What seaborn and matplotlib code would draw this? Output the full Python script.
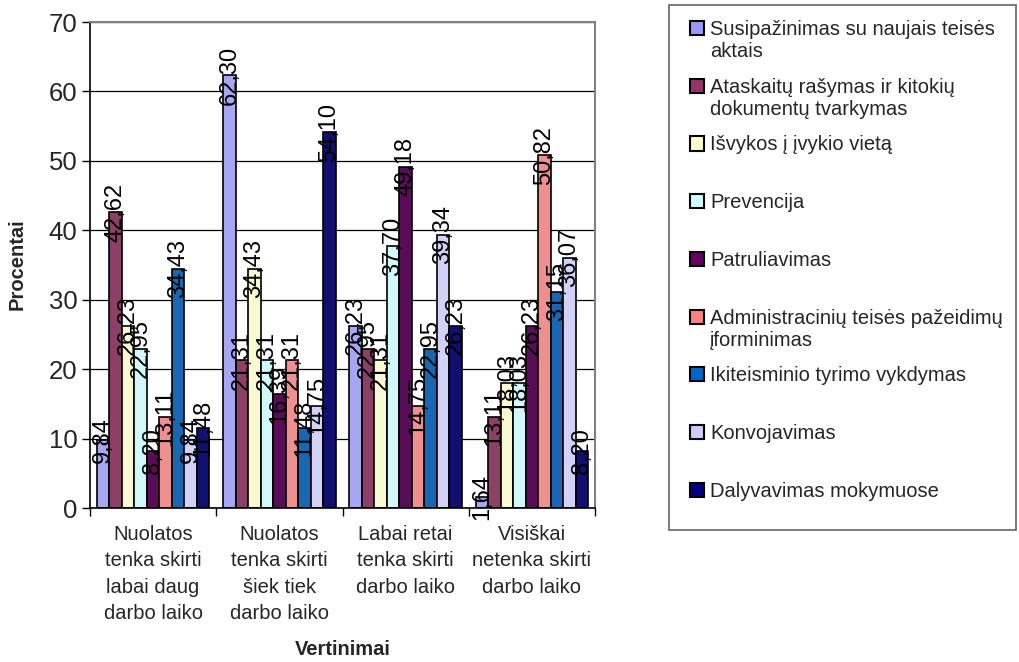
import matplotlib
matplotlib.use("Agg")
import matplotlib.pyplot as plt
from matplotlib.patches import Rectangle
import seaborn as sns
import pandas as pd

categories = [
    "Nuolatos\ntenka skirti\nlabai daug\ndarbo laiko",
    "Nuolatos\ntenka skirti\nšiek tiek\ndarbo laiko",
    "Labai retai\ntenka skirti\ndarbo laiko",
    "Visiškai\nnetenka skirti\ndarbo laiko",
]
series_names = [
    "Susipažinimas su naujais teisės\naktais",
    "Ataskaitų rašymas ir kitokių\ndokumentų tvarkymas",
    "Išvykos į įvykio vietą",
    "Prevencija",
    "Patruliavimas",
    "Administracinių teisės pažeidimų\nįforminimas",
    "Ikiteisminio tyrimo vykdymas",
    "Konvojavimas",
    "Dalyvavimas mokymuose",
]
# one list per series, values per category (%)
susipazinimas = [9.84, 62.30, 26.23, 1.64]
ataskaitos = [42.62, 21.31, 22.95, 13.11]
isvykos = [26.23, 34.43, 21.31, 18.03]
prevencija = [22.95, 21.31, 37.70, 18.03]
patruliavimas = [8.20, 16.39, 49.18, 26.23]
administraciniai = [13.11, 21.31, 14.75, 50.82]
ikiteisminis = [34.43, 11.48, 22.95, 31.15]
konvojavimas = [9.84, 14.75, 39.34, 36.07]
mokymai = [11.48, 54.10, 26.23, 8.20]
series_values = [susipazinimas, ataskaitos, isvykos, prevencija, patruliavimas,
                 administraciniai, ikiteisminis, konvojavimas, mokymai]

colors = ["#9999FF", "#993366", "#FFFFCC", "#CCFFFF", "#660066",
          "#FF8080", "#0066CC", "#CCCCFF", "#000080"]

rows = []
for name, vals in zip(series_names, series_values):
    for cat, v in zip(categories, vals):
        rows.append({"cat": cat, "series": name, "value": v})
df = pd.DataFrame(rows)

sns.set_style("white")
plt.rcParams["font.family"] = ["Liberation Sans", "DejaVu Sans"]

W, H = 1019, 662
fig = plt.figure(figsize=(W / 100, H / 100), dpi=100)


def fx(x):
    return x / W


def fy(y):
    return 1 - y / H


ax = fig.add_axes([90 / W, (H - 508) / H, 505 / W, 486 / H])

sns.barplot(data=df, x="cat", y="value", hue="series", palette=colors,
            order=categories, hue_order=series_names, width=0.89, gap=0,
            edgecolor="black", linewidth=1.2, ax=ax, legend=False)

# value labels, rotated, centred on the top of each bar
for cont in ax.containers:
    for p in cont.patches:
        h = p.get_height()
        ax.text(p.get_x() + p.get_width() / 2, h,
                f"{h:.2f}".replace(".", ","), rotation=90,
                ha="center", va="center", fontsize=17, color="black")

ax.set_ylim(0, 70)
ax.set_xlim(-0.5, 3.5)
ax.set_yticks(range(0, 71, 10))
ax.tick_params(axis="y", labelsize=18.5, length=6, width=1, pad=3,
               direction="out", left=True, color="black")
ax.tick_params(axis="x", labelsize=14.5, length=0, pad=12)
for t in ax.get_xticklabels():
    t.set_linespacing(1.5)
ax.set_xticks([-0.5, 0.5, 1.5, 2.5, 3.5], minor=True)
ax.tick_params(axis="x", which="minor", length=6, width=1, bottom=True,
               color="black")
ax.yaxis.grid(True, color="black", linewidth=0.9)
ax.set_axisbelow(True)
for s in ["top", "right"]:
    ax.spines[s].set_color("#808080")
    ax.spines[s].set_linewidth(1.5)
for s in ["left", "bottom"]:
    ax.spines[s].set_color("black")
    ax.spines[s].set_linewidth(1.2)

ax.set_ylabel("Procentai", fontsize=14.5, fontweight="bold")
ax.yaxis.set_label_coords(-0.125, 0.502)
ax.set_xlabel("Vertinimai", fontsize=14.5, fontweight="bold")
ax.xaxis.set_label_coords(0.5, -0.272)

# legend box, entries spaced evenly by their first line like the original
fig.add_artist(Rectangle((fx(669), fy(530)), fx(1016) - fx(669),
                         fy(5) - fy(530), transform=fig.transFigure,
                         facecolor="white", edgecolor="#666666", linewidth=1.2))
for i, (name, col) in enumerate(zip(series_names, colors)):
    yc = 28 + i * 57.75
    fig.add_artist(Rectangle((fx(690), fy(yc + 7)), 14 / W, 14 / H,
                             transform=fig.transFigure, facecolor=col,
                             edgecolor="black", linewidth=1.5))
    for k, line in enumerate(name.split("\n")):
        fig.text(fx(710), fy(yc + 7 + k * 22), line, fontsize=14.5,
                 ha="left", va="baseline")

fig.savefig("out.png", dpi=100)
